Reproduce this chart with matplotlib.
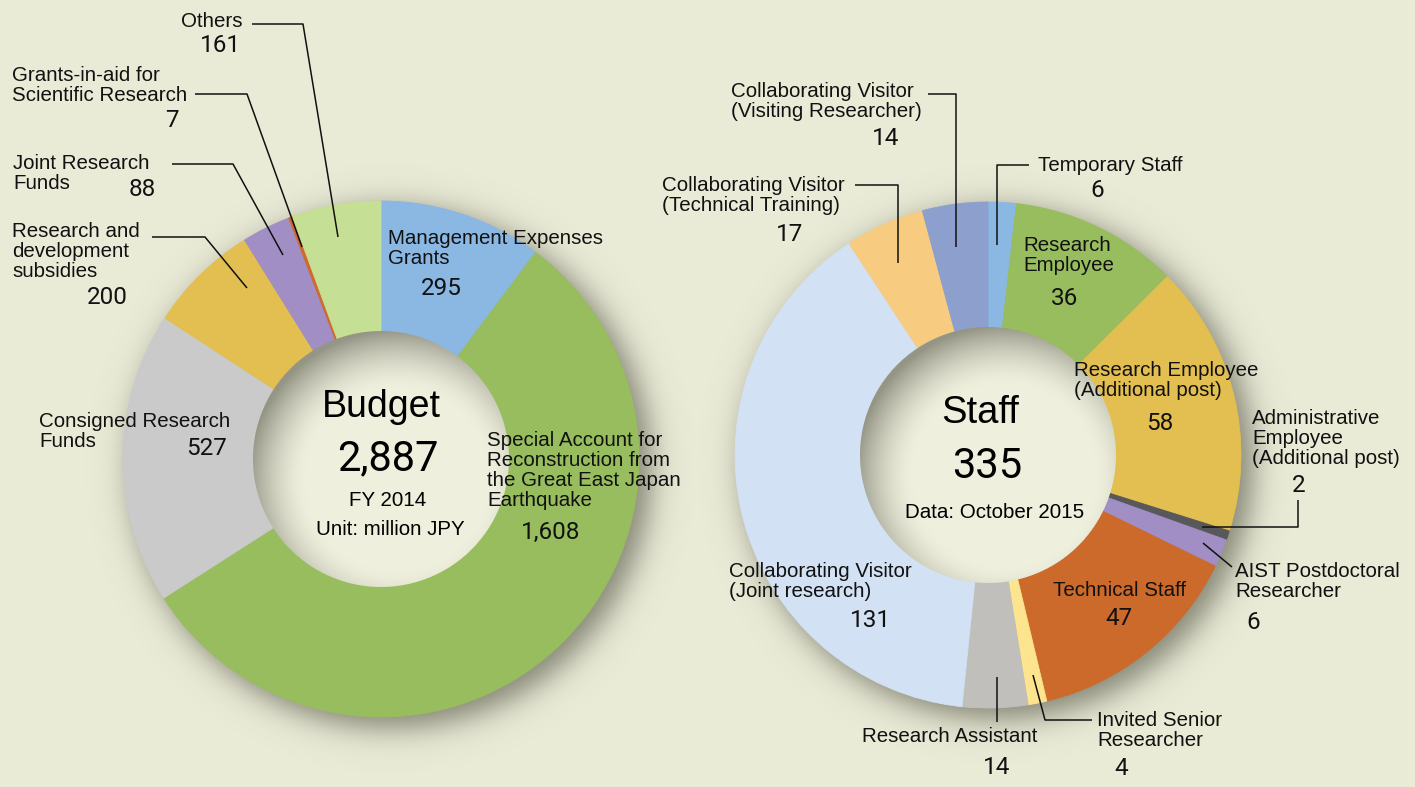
import numpy as np
import matplotlib
matplotlib.use("Agg")
import matplotlib.pyplot as plt

W, H = 1415, 787
BG = "#eaebd7"

# ---- data ----
budget_labels = ["Management Expenses\nGrants",
                 "Special Account for\nReconstruction from\nthe Great East Japan\nEarthquake",
                 "Consigned Research\nFunds",
                 "Research and\ndevelopment\nsubsidies",
                 "Joint Research\nFunds",
                 "Grants-in-aid for\nScientific Research",
                 "Others"]
budget_values = [295, 1608, 527, 200, 88, 7, 161]
budget_colors = ["#8ab8e3", "#98bd5f", "#c9cac9", "#e2bf50", "#a08ec4", "#d2692c", "#c5df94"]
budget_total = "2,887"

staff_labels = ["Temporary Staff",
                "Research\nEmployee",
                "Research Employee\n(Additional post)",
                "Administrative\nEmployee\n(Additional post)",
                "AIST Postdoctoral\nResearcher",
                "Technical Staff",
                "Invited Senior\nResearcher",
                "Research Assistant",
                "Collaborating Visitor\n(Joint research)",
                "Collaborating Visitor\n(Technical Training)",
                "Collaborating Visitor\n(Visiting Researcher)"]
staff_values = [6, 36, 58, 2, 6, 47, 4, 14, 131, 17, 14]
staff_colors = ["#8ab8e3", "#98bd5f", "#e2bf50", "#58585a", "#a08ec4", "#cc6a2c",
                "#fde48e", "#c0bfbc", "#d2e1f3", "#f7cc80", "#8c9fcd"]
staff_total = "335"

# ---- layout (pixel coords, y measured from top) ----
donuts = [dict(cx=381, cy=459, R=258, r=128),
          dict(cx=988, cy=455, R=253, r=128)]

# label top-left, number centre/top
budget_pos = [((388, 229), (441, 277)),
              ((487, 431), (551, 521)),
              ((39, 412), (207, 437)),
              ((12, 222), (107, 286)),
              ((13, 154), (142, 178)),
              ((12, 66), (172, 109)),
              ((181, 12), (220, 34))]
staff_pos = [((1038, 156), (1097, 179)),
             ((1023, 236), (1064, 287)),
             ((1074, 361), (1160, 412)),
             ((1252, 409), (1299, 474)),
             ((1235, 562), (1253, 611)),
             ((1053, 581), (1119, 607)),
             ((1097, 711), (1121, 757)),
             ((862, 727), (997, 756)),
             ((729, 562), (870, 609)),
             ((662, 176), (790, 223)),
             ((731, 82), (886, 127))]

leaders = [[(252, 24), (303, 24), (338, 237)],
           [(195, 94), (247, 94), (302, 247)],
           [(172, 164), (233, 164), (283, 255)],
           [(152, 237), (205, 237), (247, 288)],
           [(928, 94), (956, 94), (956, 247)],
           [(855, 185), (898, 185), (898, 263)],
           [(1029, 165), (997, 165), (997, 245)],
           [(1298, 500), (1298, 527), (1202, 527)],
           [(1232, 567), (1203, 543)],
           [(1092, 720), (1045, 720), (1033, 675)],
           [(997, 722), (997, 677)]]

LABEL_FONT = ["Liberation Sans", "DejaVu Sans"]
NUM_FONT = ["Roboto", "DejaVu Sans"]
LABEL_SIZE = 14.8
NUM_SIZE = 17.5

fig = plt.figure(figsize=(W / 100, H / 100), dpi=100, facecolor=BG)
ax = fig.add_axes([0, 0, 1, 1])
ax.set_facecolor(BG)

yy, xx = np.mgrid[0:H, 0:W] + 0.5

# soft drop shadow under each ring
shadow = np.zeros((H, W, 4))
alpha = np.zeros((H, W))
for d in donuts:
    dist = np.hypot(xx - (d["cx"] + 10), yy - (d["cy"] + 9))
    a = 0.62 / (1 + np.exp((dist - (d["R"] + 2)) / 9.0))
    alpha = np.maximum(alpha, a)
shadow[..., :3] = np.array([70, 70, 55]) / 255
shadow[..., 3] = alpha
ax.imshow(shadow, extent=(0, W, 0, H), origin="upper", zorder=1, interpolation="bilinear")

# rings
for d, vals, cols in [(donuts[0], budget_values, budget_colors),
                      (donuts[1], staff_values, staff_colors)]:
    wedges, _ = ax.pie(vals, colors=cols, startangle=90, counterclock=False,
                       radius=d["R"], center=(d["cx"], H - d["cy"]),
                       wedgeprops=dict(width=d["R"] - d["r"] + 4, linewidth=0.6))
    for w in wedges:
        w.set_edgecolor(w.get_facecolor())
        w.set_zorder(2)

# dished centre with inner shading
hole = np.zeros((H, W, 4))
base = np.array([238, 239, 221]) / 255
dark = np.array([120, 120, 105]) / 255
shade = np.zeros((H, W))
mask = np.zeros((H, W))
for d in donuts:
    r = d["r"]
    dist0 = np.hypot(xx - d["cx"], yy - d["cy"])
    m = np.clip(r - dist0 + 0.5, 0, 1)
    dist = np.hypot(xx - (d["cx"] + 0.13 * r), yy - (d["cy"] + 0.16 * r)) / r
    s = np.clip((dist - 0.72) / 0.45, 0, 1) ** 1.6 * 0.75
    shade = np.where(m > 0, s, shade)
    mask = np.maximum(mask, m)
hole[..., :3] = base * (1 - shade[..., None]) + dark * shade[..., None]
hole[..., 3] = mask
ax.imshow(hole, extent=(0, W, 0, H), origin="upper", zorder=3, interpolation="bilinear")

ax.set_xlim(0, W)
ax.set_ylim(0, H)
ax.set_aspect("equal")
ax.axis("off")


def put_labels(labels, values, pos):
    for lab, v, ((lx, ly), (nx, ny)) in zip(labels, values, pos):
        ax.text(lx, H - ly, lab, ha="left", va="top", fontsize=LABEL_SIZE,
                family=LABEL_FONT, linespacing=1.07, color="#111111", zorder=5)
        ax.text(nx, H - ny, f"{v:,}", ha="center", va="top", fontsize=NUM_SIZE,
                family=NUM_FONT, color="#111111", zorder=5)


put_labels(budget_labels, budget_values, budget_pos)
put_labels(staff_labels, staff_values, staff_pos)

for pts in leaders:
    xs = [p[0] for p in pts]
    ys = [H - p[1] for p in pts]
    ax.plot(xs, ys, color="#111111", lw=1.1, zorder=6, solid_capstyle="butt")

# centre captions
ax.text(381, H - 389, "Budget", ha="center", va="top", fontsize=27, family=LABEL_FONT, zorder=5)
ax.text(388, H - 438, budget_total, ha="center", va="top", fontsize=30, family=NUM_FONT, zorder=5)
ax.text(388, H - 491, "FY 2014", ha="center", va="top", fontsize=LABEL_SIZE, family=LABEL_FONT, zorder=5)
ax.text(390, H - 520, "Unit: million JPY", ha="center", va="top", fontsize=LABEL_SIZE, family=LABEL_FONT, zorder=5)

ax.text(980, H - 395, "Staff", ha="center", va="top", fontsize=27.5, family=LABEL_FONT, zorder=5)
ax.text(987, H - 446, staff_total, ha="center", va="top", fontsize=30, family=NUM_FONT, zorder=5)
ax.text(995, H - 503, "Data: October 2015", ha="center", va="top", fontsize=LABEL_SIZE, family=LABEL_FONT, zorder=5)

fig.savefig("out.png", dpi=100, facecolor=BG)
